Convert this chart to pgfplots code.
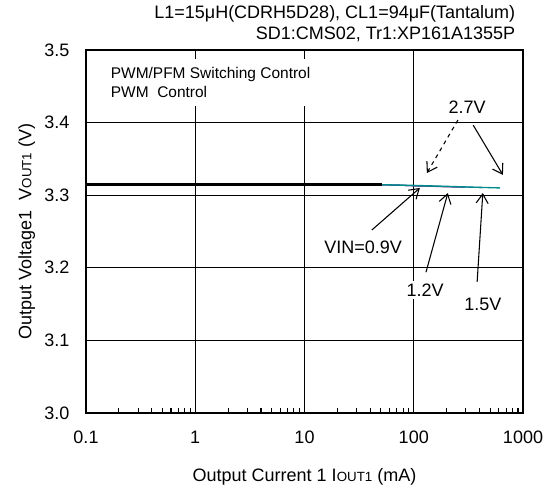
\documentclass[border=0pt]{standalone}
\usepackage{pgfplots}
\pgfplotsset{compat=1.18}
\usepackage{fontspec}
\setmainfont{Liberation Sans}
\usetikzlibrary{arrows.meta}
\definecolor{tealline}{RGB}{0,140,140}
\definecolor{purpline}{RGB}{150,40,120}
\definecolor{blueline}{RGB}{40,60,160}
\newcommand{\sub}[1]{{\fontsize{10}{12}\selectfont #1}}
\begin{document}
\begin{tikzpicture}
\begin{axis}[
  scale only axis,
  width=327.75pt, height=272.25pt,
  xmode=log, log basis x=10,
  xmin=0.1, xmax=1000, ymin=3.0, ymax=3.5,
  xtick={0.1,1,10,100,1000},
  xticklabels={0.1,1,10,100,1000},
  minor xtick={0.2,0.3,0.4,0.5,0.6,0.7,0.8,0.9,2,3,4,5,6,7,8,9,20,30,40,50,60,70,80,90,200,300,400,500,600,700,800,900},
  ytick={3.0,3.1,3.2,3.3,3.4,3.5},
  yticklabel style={/pgf/number format/fixed,/pgf/number format/fixed zerofill,/pgf/number format/precision=1, xshift=-9pt},
  xticklabel style={yshift=-10pt},
  /pgf/number format/assume math mode=true,
  tick label style={font=\fontsize{13.5}{16}\selectfont},
  label style={font=\fontsize{13.5}{16}\selectfont},
  xtick pos=bottom, ytick pos=left,
  tick align=inside,
  major tick length=6pt, minor tick length=4pt,
  tick style={black, line width=0.8pt},
  xmajorgrids, ymajorgrids,
  major grid style={black, line width=0.6pt},
  axis line style={line width=1.3pt},
  xlabel={Output Current 1 I\sub{OUT1} (mA)},
  ylabel={Output Voltage1\ \ V\sub{OUT1} (V)},
  xlabel style={yshift=-12pt},
  ylabel style={yshift=0pt},
  clip=false,
]
% PWM/PFM text box
\node[fill=white, anchor=north west, align=left, inner sep=6pt,
      font=\fontsize{11.6}{14.3}\selectfont]
  at (rel axis cs:0.038,0.975) {PWM/PFM Switching Control\\PWM\ \ Control};

\addplot[blueline, line width=0.8pt] coordinates {
 (0.1,3.3150) (1,3.3150) (10,3.3150) (50,3.3145) (80,3.3135) (120,3.3125)};
\addplot[purpline, line width=0.8pt] coordinates {
 (0.1,3.3150) (1,3.3150) (10,3.3150) (50,3.3145) (100,3.3130) (200,3.3115) (290,3.3110)};
\addplot[blueline!60!tealline, line width=0.8pt] coordinates {
 (0.1,3.3150) (1,3.3150) (10,3.3150) (50,3.3145) (100,3.3130) (200,3.3118) (430,3.3105)};
\addplot[tealline, line width=1pt] coordinates {
 (0.1,3.3150) (1,3.3150) (10,3.3150) (50,3.3145) (100,3.3135) (200,3.3122) (400,3.3108) (617,3.3100)};
\addplot[black, line width=2.6pt] coordinates {
 (0.1,3.3150) (1,3.3150) (10,3.3150) (51,3.3150)};

% annotations
\node[fill=white, inner sep=2pt, font=\fontsize{13.5}{16}\selectfont] at (rel axis cs:0.872,0.843) {2.7V};
\draw[dashed, line width=0.8pt, -{Straight Barb[length=7pt,width=9pt]}] (rel axis cs:0.851,0.807) -- (rel axis cs:0.780,0.661);
\draw[line width=0.8pt, -{Straight Barb[length=7pt,width=9pt]}] (rel axis cs:0.886,0.793) -- (rel axis cs:0.954,0.656);
\node[fill=white, inner sep=2pt, font=\fontsize{13.5}{16}\selectfont] at (rel axis cs:0.634,0.457) {VIN=0.9V};
\draw[line width=0.8pt, -{Straight Barb[length=7pt,width=9pt]}] (rel axis cs:0.654,0.504) -- (rel axis cs:0.764,0.620);
\node[fill=white, inner sep=2pt, font=\fontsize{13.5}{16}\selectfont] at (rel axis cs:0.776,0.339) {1.2V};
\draw[line width=0.8pt, -{Straight Barb[length=7pt,width=9pt]}] (rel axis cs:0.778,0.388) -- (rel axis cs:0.828,0.606);
\node[fill=white, inner sep=2pt, font=\fontsize{13.5}{16}\selectfont] at (rel axis cs:0.908,0.298) {1.5V};
\draw[line width=0.8pt, -{Straight Barb[length=7pt,width=9pt]}] (rel axis cs:0.895,0.361) -- (rel axis cs:0.908,0.606);

% header text
\node[anchor=base east, font=\fontsize{13.5}{16}\selectfont] at (rel axis cs:0.993,1.086) {L1=15μH(CDRH5D28), CL1=94μF(Tantalum)};
\node[anchor=base east, font=\fontsize{13.5}{16}\selectfont] at (rel axis cs:0.993,1.028) {SD1:CMS02, Tr1:XP161A1355P};

\coordinate (bbl) at (rel axis cs:-0.1968,-0.2204);
\coordinate (bbr) at (rel axis cs:1.0732,1.1377);
\end{axis}
\pgfresetboundingbox
\useasboundingbox (bbl) rectangle (bbr);
\end{tikzpicture}
\end{document}
